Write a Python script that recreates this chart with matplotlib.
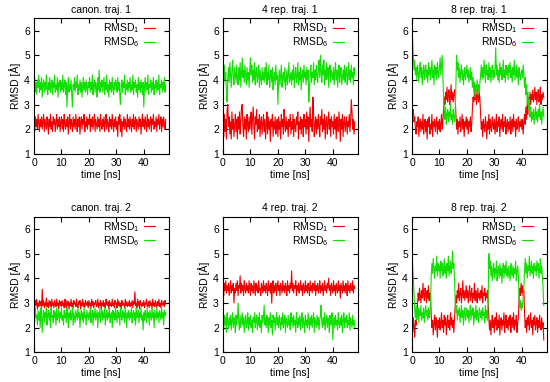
import numpy as np
import matplotlib
matplotlib.use('Agg')
import matplotlib.pyplot as plt

plt.rcParams['font.family'] = ['Liberation Sans', 'DejaVu Sans']
plt.rcParams['mathtext.default'] = 'regular'

# sampling step of the traces, ns
dt = 0.25

titles = ['canon. traj. 1', '4 rep. traj. 1', '8 rep. traj. 1',
          'canon. traj. 2', '4 rep. traj. 2', '8 rep. traj. 2']

# canon. traj. 1  (one row = 5 ns)
c1_r = [2.3, 1.9, 2.5, 2.1, 2.4, 2.0, 2.6, 2.2, 1.9, 2.4, 2.1, 2.5, 2.0, 2.3, 2.6, 1.9, 2.4, 2.2, 2.0, 2.5,
        2.2, 1.8, 2.4, 2.1, 2.6, 2.0, 2.3, 1.9, 2.5, 2.2, 2.4, 1.9, 2.3, 2.6, 2.0, 2.4, 2.1, 2.5, 1.9, 2.3,
        2.5, 2.0, 2.4, 1.9, 2.6, 2.2, 2.0, 2.4, 2.1, 2.5, 1.8, 2.3, 2.6, 2.0, 2.4, 2.2, 1.9, 2.5, 2.1, 2.4,
        2.0, 2.6, 2.2, 1.9, 2.4, 2.1, 2.5, 1.8, 2.3, 2.5, 2.0, 2.4, 2.2, 2.6, 1.9, 2.3, 2.1, 2.5, 2.0, 2.4,
        2.2, 2.6, 1.9, 2.4, 2.1, 2.5, 2.0, 2.3, 2.6, 1.9, 2.4, 2.2, 2.0, 2.5, 2.1, 2.4, 1.9, 2.6, 2.2, 2.0,
        2.4, 2.1, 2.5, 1.9, 2.3, 2.6, 2.0, 2.4, 2.2, 1.9, 2.5, 2.1, 2.4, 2.0, 2.6, 2.2, 1.9, 2.4, 2.1, 2.5,
        2.0, 2.3, 1.7, 2.5, 2.2, 2.6, 1.9, 2.4, 1.7, 2.3, 2.1, 2.5, 2.0, 2.4, 2.2, 1.9, 2.6, 2.1, 2.4, 2.0,
        2.5, 2.2, 1.9, 2.4, 2.1, 2.6, 2.0, 2.3, 2.5, 1.9, 2.4, 2.2, 2.0, 2.5, 2.1, 2.4, 1.8, 2.3, 2.6, 2.1,
        2.4, 2.0, 2.5, 2.2, 1.9, 2.6, 2.1, 2.4, 2.0, 2.3, 2.5, 1.9, 2.4, 2.2, 2.6, 2.0, 2.3, 2.1, 2.5, 1.9,
        2.4, 2.2, 2.6, 2.0, 2.3, 2.5, 1.9, 2.4, 2.1, 2.5, 2.2, 2.0, 2.4]
c1_g = [3.8, 4.1, 3.5, 3.9, 3.4, 4.0, 3.7, 4.2, 3.5, 3.9, 3.6, 4.1, 3.3, 3.8, 4.0, 3.5, 3.9, 3.6, 4.2, 3.7,
        3.4, 3.9, 3.6, 4.1, 3.5, 3.8, 4.0, 3.4, 3.9, 3.7, 4.2, 3.5, 3.8, 3.6, 4.1, 3.3, 3.9, 3.7, 4.0, 3.5,
        3.9, 3.6, 4.2, 3.5, 3.8, 4.0, 3.4, 3.9, 2.9, 3.7, 4.1, 3.5, 3.8, 3.6, 4.0, 3.4, 2.9, 3.8, 3.6, 4.1,
        3.5, 3.9, 3.7, 4.2, 3.4, 3.8, 3.6, 4.0, 3.5, 3.9, 3.3, 3.8, 4.1, 3.6, 3.9, 3.5, 4.0, 3.7, 3.4, 3.9,
        3.7, 4.1, 3.5, 3.9, 3.6, 4.2, 3.4, 3.8, 4.0, 3.5, 3.9, 3.7, 3.3, 4.1, 3.6, 4.4, 3.5, 3.9, 3.7, 4.0,
        3.5, 3.8, 4.1, 3.4, 3.9, 3.6, 4.2, 3.5, 3.8, 3.3, 4.0, 3.6, 3.9, 3.5, 4.1, 3.7, 3.4, 3.9, 3.6, 4.0,
        3.8, 3.5, 4.1, 3.6, 3.9, 3.4, 3.0, 3.8, 4.0, 3.5, 3.9, 3.7, 4.2, 3.4, 3.8, 3.6, 4.0, 3.5, 3.9, 3.7,
        4.1, 3.5, 3.8, 3.6, 4.2, 3.4, 3.9, 3.7, 4.0, 3.5, 3.8, 3.3, 4.1, 3.6, 3.9, 3.5, 4.0, 3.7, 3.4, 3.9,
        2.9, 3.7, 4.1, 3.5, 3.9, 3.6, 4.2, 3.4, 3.8, 3.7, 4.0, 3.5, 3.9, 3.6, 4.1, 3.4, 3.8, 3.7, 4.0, 3.5,
        3.9, 3.6, 4.2, 3.4, 3.8, 3.7, 4.0, 3.5, 3.9, 3.6, 4.1, 3.5, 3.8]

# 4 rep. traj. 1
r4a_r = [2.2, 1.7, 2.6, 1.9, 2.4, 1.6, 2.8, 3.0, 2.1, 2.5, 1.8, 2.3, 1.6, 2.7, 2.0, 2.4, 1.7, 2.2, 2.6, 1.9,
         2.4, 1.6, 2.5, 2.0, 2.7, 1.8, 2.3, 2.9, 3.0, 2.1, 1.7, 2.5, 2.0, 2.4, 1.6, 2.6, 2.2, 1.9, 2.5, 2.0,
         2.3, 2.7, 1.8, 2.4, 2.9, 2.1, 1.6, 2.5, 2.2, 2.8, 1.9, 2.4, 2.0, 2.6, 1.7, 2.3, 2.5, 1.8, 2.2, 2.6,
         1.9, 2.4, 1.6, 2.2, 2.7, 1.8, 2.5, 2.0, 2.3, 1.5, 2.4, 2.1, 2.6, 1.7, 2.3, 2.0, 2.5, 1.8, 2.2, 2.4,
         1.7, 2.5, 2.0, 2.3, 1.6, 2.6, 2.1, 2.4, 1.8, 2.8, 2.2, 1.9, 2.5, 2.0, 2.3, 1.7, 2.4, 2.1, 2.6, 1.8,
         2.3, 2.0, 2.6, 1.7, 2.4, 2.1, 1.9, 2.5, 2.2, 2.7, 1.6, 2.3, 2.0, 2.5, 1.8, 2.4, 2.2, 1.7, 2.6, 2.1,
         2.4, 1.8, 2.7, 2.0, 2.5, 1.5, 2.3, 2.9, 2.1, 2.4, 1.9, 3.3, 2.6, 1.7, 2.2, 2.5, 1.8, 2.4, 2.0, 2.6,
         2.1, 1.7, 2.5, 2.2, 2.8, 1.9, 2.4, 2.0, 2.6, 1.6, 2.3, 2.5, 1.8, 2.2, 2.7, 2.0, 2.4, 1.7, 2.5, 2.1,
         2.3, 1.8, 2.6, 2.0, 2.4, 1.6, 2.5, 2.1, 1.9, 2.7, 2.2, 1.5, 2.4, 2.0, 2.6, 1.7, 2.3, 2.5, 1.9, 2.2,
         2.5, 1.8, 2.3, 2.1, 2.6, 1.9, 2.4, 3.2, 2.7, 2.0, 2.4, 1.8, 2.3]
r4a_g = [4.4, 3.8, 4.6, 4.0, 4.3, 3.5, 3.1, 4.1, 4.5, 3.9, 4.7, 4.2, 3.7, 4.4, 4.8, 4.0, 3.8, 4.5, 4.2, 3.9,
         4.6, 4.1, 3.8, 4.5, 4.0, 4.7, 3.7, 4.3, 4.9, 4.1, 4.4, 3.9, 4.6, 4.2, 3.8, 4.5, 4.0, 4.3, 3.7, 4.4,
         4.9, 4.2, 4.6, 3.9, 4.4, 4.0, 4.7, 3.8, 4.3, 4.5, 3.9, 4.2, 4.6, 3.7, 4.4, 4.1, 3.8, 4.5, 4.0, 4.3,
         3.9, 4.5, 4.1, 4.7, 3.8, 4.3, 4.0, 4.6, 3.7, 4.2, 4.4, 3.9, 4.5, 3.6, 4.1, 4.3, 3.8, 4.6, 4.0, 4.2,
         3.0, 3.9, 4.4, 3.8, 4.2, 4.6, 3.7, 4.1, 4.3, 3.9, 4.5, 3.6, 4.0, 4.4, 3.8, 4.2, 4.7, 3.9, 4.1, 4.3,
         3.8, 4.4, 4.0, 4.6, 3.7, 4.2, 4.5, 3.9, 4.1, 4.7, 3.8, 4.3, 4.0, 4.5, 3.6, 4.2, 4.4, 3.9, 4.6, 4.1,
         4.3, 3.8, 4.5, 4.0, 4.4, 3.1, 3.7, 4.2, 4.6, 3.9, 4.3, 4.1, 4.7, 3.8, 4.4, 4.0, 4.6, 4.2, 3.9, 4.5,
         4.8, 4.1, 5.0, 4.3, 3.9, 4.6, 4.2, 4.8, 3.8, 4.4, 4.0, 4.7, 4.1, 4.5, 3.7, 4.3, 4.6, 3.9, 4.4, 4.2,
         4.0, 4.5, 3.8, 4.3, 4.7, 4.0, 4.4, 3.7, 4.2, 4.6, 3.9, 4.3, 4.5, 3.8, 4.1, 4.4, 4.0, 4.6, 3.9, 4.3,
         4.5, 3.8, 4.2, 4.7, 4.0, 4.4, 3.9, 4.6, 4.1, 4.3, 3.8, 4.5, 4.2]

# 8 rep. traj. 1
r8a_r = [2.9, 2.6, 2.8, 2.3, 2.5, 2.0, 1.8, 2.3, 2.1, 2.5, 1.7, 2.2, 2.4, 1.9, 2.3, 2.0, 2.6, 1.8, 2.2, 2.4,
         1.9, 2.3, 1.6, 2.4, 2.1, 2.5, 1.8, 2.2, 2.0, 2.6, 1.7, 2.3, 2.1, 2.4, 1.9, 2.2, 2.5, 1.8, 2.3, 2.0,
         2.4, 1.9, 2.2, 2.6, 2.0, 2.3, 2.8, 3.3, 3.0, 3.5, 3.2, 3.7, 3.1, 3.4, 3.6, 3.0, 3.3, 3.8, 3.2, 3.5,
         3.1, 3.4, 3.6, 3.2, 2.6, 2.0, 2.4, 1.8, 2.3, 2.1, 2.5, 1.9, 2.2, 2.6, 2.0, 2.4, 1.7, 2.3, 2.1, 2.5,
         2.0, 2.4, 1.8, 2.3, 2.1, 2.5, 1.9, 2.2, 2.8, 3.3, 3.1, 3.5, 3.2, 3.4, 3.0, 3.6, 3.3, 3.1, 3.5, 3.2,
         2.6, 2.0, 2.3, 1.7, 2.4, 2.1, 1.9, 2.5, 2.2, 1.6, 2.3, 2.0, 2.6, 1.8, 2.4, 2.1, 1.9, 2.5, 2.2, 2.0,
         2.4, 1.8, 2.2, 2.6, 1.9, 2.3, 2.1, 2.5, 1.7, 2.2, 2.4, 2.0, 2.6, 1.9, 2.3, 2.1, 2.5, 1.8, 2.2, 2.4,
         1.9, 2.3, 2.0, 2.5, 1.8, 2.2, 2.4, 1.9, 2.6, 2.1, 2.3, 1.7, 2.4, 2.0, 2.2, 2.5, 1.9, 2.3, 2.1, 2.4,
         2.0, 2.4, 1.8, 2.3, 2.6, 2.2, 2.9, 2.4, 3.1, 2.6, 3.3, 2.8, 3.5, 3.0, 3.4, 3.2, 3.6, 3.1, 3.3, 3.7,
         3.2, 3.5, 3.0, 3.4, 3.6, 3.1, 3.3, 3.7, 3.0, 3.4, 3.2, 3.5, 3.3]
r8a_g = [6.0, 5.6, 4.9, 4.4, 4.8, 4.2, 4.5, 4.0, 4.6, 4.3, 3.9, 4.4, 4.7, 4.1, 4.5, 3.8, 4.3, 4.6, 4.0, 4.4,
         4.6, 4.1, 4.4, 3.9, 4.7, 4.2, 4.5, 4.0, 4.3, 4.8, 4.1, 4.4, 3.8, 4.6, 4.2, 4.5, 4.0, 4.7, 4.3, 4.1,
         4.5, 4.9, 4.2, 4.6, 5.0, 4.1, 3.4, 2.7, 2.4, 2.9, 2.2, 2.6, 2.8, 2.3, 2.7, 2.5, 3.0, 2.4, 2.6, 2.2,
         2.8, 2.5, 2.3, 2.7, 3.8, 5.0, 4.4, 4.7, 4.1, 4.5, 3.9, 4.3, 4.6, 4.0, 4.4, 3.8, 4.2, 4.5, 4.0, 4.3,
         4.6, 4.1, 4.4, 3.9, 4.2, 4.5, 4.0, 4.3, 3.7, 4.1, 3.5, 3.9, 3.3, 3.8, 3.6, 4.0, 3.4, 3.8, 3.5, 3.9,
         4.2, 4.6, 4.0, 4.5, 4.1, 4.8, 4.3, 3.9, 4.6, 4.2, 4.4, 4.0, 4.7, 4.1, 4.5, 3.9, 4.3, 4.6, 4.0, 4.4,
         4.1, 4.5, 5.3, 4.2, 4.6, 4.0, 4.4, 3.9, 4.7, 4.2, 4.5, 4.0, 4.3, 4.8, 4.1, 4.4, 3.9, 4.6, 4.2, 4.5,
         4.0, 4.6, 4.3, 4.7, 4.1, 4.4, 3.9, 4.5, 4.2, 4.8, 4.0, 4.3, 4.6, 4.1, 4.4, 3.8, 4.5, 4.2, 4.0, 4.3,
         4.4, 4.1, 4.6, 4.2, 3.7, 4.1, 3.4, 3.8, 3.0, 3.5, 2.8, 3.2, 2.5, 2.9, 2.3, 2.7, 2.4, 2.8, 2.2, 2.6,
         2.9, 2.4, 2.7, 2.3, 2.8, 2.5, 3.0, 2.4, 2.7, 2.2, 2.6, 2.9, 2.5]

# canon. traj. 2
c2_r = [3.0, 2.8, 3.1, 2.9, 3.15, 2.75, 3.0, 2.85, 3.1, 2.9, 3.05, 2.8, 3.55, 2.9, 3.1, 2.8, 3.0, 2.9, 3.2, 2.85,
        3.0, 2.8, 3.1, 2.9, 3.05, 2.75, 3.15, 2.9, 3.0, 2.8, 3.1, 2.95, 2.85, 3.15, 2.9, 3.0, 2.75, 3.1, 2.9, 3.05,
        2.85, 3.1, 2.9, 3.0, 2.8, 3.15, 2.95, 2.8, 3.1, 2.9, 3.05, 2.75, 3.0, 2.9, 3.15, 2.85, 3.0, 2.8, 3.1, 2.95,
        3.0, 2.85, 3.15, 2.9, 2.8, 3.05, 2.95, 3.1, 2.75, 3.0, 2.9, 3.15, 2.85, 3.0, 2.8, 3.1, 2.95, 2.9, 3.05, 2.8,
        3.1, 2.9, 3.0, 2.75, 3.15, 2.9, 3.05, 2.8, 3.0, 2.95, 3.1, 2.85, 2.9, 3.15, 2.8, 3.0, 2.9, 3.1, 2.75, 3.0,
        2.9, 3.1, 2.85, 3.0, 2.8, 3.15, 2.95, 2.9, 3.05, 2.75, 3.1, 2.9, 3.0, 2.85, 3.15, 2.9, 3.0, 2.8, 3.1, 2.95,
        3.0, 2.8, 3.15, 2.9, 3.05, 2.85, 3.0, 2.75, 3.1, 2.9, 3.0, 2.95, 2.8, 3.15, 2.9, 3.05, 2.85, 3.0, 2.9, 3.1,
        2.85, 3.0, 2.9, 3.1, 2.8, 3.05, 2.95, 3.45, 2.9, 3.0, 2.8, 3.15, 2.9, 3.05, 2.75, 3.1, 2.95, 2.85, 3.0, 2.9,
        3.1, 2.8, 3.0, 2.95, 3.15, 2.85, 2.9, 3.05, 2.8, 3.1, 2.9, 3.0, 2.75, 3.15, 2.9, 3.0, 2.85, 3.1, 2.95, 2.8,
        3.05, 2.9, 3.15, 2.85, 3.0, 2.8, 3.1, 2.95, 2.9, 3.05, 2.85, 3.1, 2.95]
c2_g = [2.6, 2.2, 2.8, 2.4, 2.5, 2.1, 2.7, 2.3, 2.6, 2.0, 2.8, 2.4, 1.8, 2.5, 2.7, 2.2, 2.6, 2.4, 2.8, 2.1,
        2.5, 2.7, 2.3, 2.6, 2.0, 2.8, 2.4, 2.5, 2.2, 2.7, 2.4, 2.6, 2.1, 2.8, 2.3, 2.5, 2.7, 2.2, 2.6, 2.4,
        2.8, 2.3, 2.5, 2.1, 2.7, 2.4, 2.6, 2.2, 2.8, 2.5, 2.0, 2.6, 2.4, 2.7, 2.3, 2.5, 2.8, 2.1, 2.6, 2.4,
        2.2, 2.7, 2.5, 2.3, 2.8, 2.4, 2.6, 2.0, 2.5, 2.7, 2.3, 2.6, 2.2, 2.8, 2.4, 2.5, 2.1, 2.7, 2.5, 2.3,
        2.6, 2.4, 2.8, 2.2, 2.5, 2.7, 2.1, 2.6, 2.4, 2.8, 2.3, 2.5, 2.7, 2.0, 2.6, 2.4, 2.8, 2.2, 2.5, 2.7,
        2.3, 2.6, 2.4, 2.8, 2.1, 2.5, 2.7, 2.3, 2.6, 2.4, 2.8, 2.2, 2.5, 2.6, 2.0, 2.7, 2.4, 2.6, 2.3, 2.8,
        2.5, 2.2, 2.7, 2.4, 2.6, 2.1, 2.8, 2.5, 2.3, 2.7, 2.4, 2.6, 2.2, 2.8, 2.5, 2.0, 2.6, 2.4, 2.7, 2.3,
        2.6, 2.4, 2.8, 2.2, 2.5, 2.7, 2.3, 2.6, 2.1, 2.8, 2.4, 2.5, 2.7, 2.2, 2.6, 2.4, 2.8, 2.3, 2.5, 1.9,
        2.6, 2.3, 2.7, 2.5, 2.2, 2.8, 2.4, 2.6, 2.1, 2.7, 2.5, 2.3, 2.8, 2.4, 2.6, 2.0, 2.7, 2.5, 2.3, 2.8,
        2.4, 2.6, 2.2, 2.7, 2.5, 2.3, 2.8, 2.4, 2.6, 2.1, 2.7, 2.5, 2.6]

# 4 rep. traj. 2
r4b_r = [3.6, 3.3, 3.8, 3.5, 3.9, 3.4, 3.7, 3.5, 3.8, 3.3, 3.6, 3.9, 3.4, 3.7, 3.5, 3.8, 3.0, 3.6, 3.4, 3.8,
         3.5, 3.9, 3.3, 3.7, 3.6, 4.1, 3.4, 3.8, 3.5, 3.7, 3.3, 3.9, 3.6, 3.4, 3.8, 3.5, 3.7, 3.4, 3.9, 3.6,
         3.3, 3.8, 3.5, 3.7, 3.4, 3.9, 3.6, 3.3, 3.8, 3.5, 3.7, 3.4, 3.9, 3.5, 3.6, 3.3, 3.8, 3.6, 3.4, 3.9,
         3.5, 3.7, 3.4, 3.8, 3.6, 3.3, 3.9, 3.5, 3.7, 3.4, 3.8, 3.0, 3.6, 3.9, 3.4, 3.7, 3.5, 3.8, 3.3, 3.6,
         3.9, 3.5, 3.7, 3.3, 3.8, 3.6, 3.4, 3.9, 3.5, 3.7, 3.4, 3.8, 3.6, 3.3, 3.9, 3.5, 3.7, 3.4, 3.8, 3.6,
         4.3, 3.5, 3.8, 3.4, 3.7, 3.6, 3.9, 3.3, 3.7, 3.5, 3.8, 3.4, 3.6, 3.9, 3.5, 3.7, 3.3, 3.8, 3.6, 3.4,
         3.9, 3.5, 3.7, 3.4, 3.8, 3.6, 3.3, 3.9, 3.5, 3.7, 3.4, 3.8, 3.6, 3.5, 3.9, 3.3, 3.7, 3.5, 3.8, 3.4,
         3.6, 3.9, 3.4, 3.7, 3.5, 3.8, 3.3, 3.6, 3.9, 3.5, 3.7, 3.4, 3.8, 3.6, 4.0, 3.5, 3.7, 3.3, 3.8, 3.6,
         3.4, 3.9, 3.5, 3.7, 3.3, 3.8, 3.6, 3.4, 3.9, 3.5, 3.7, 3.2, 3.8, 3.6, 3.4, 3.9, 3.5, 3.7, 3.4, 3.8,
         3.6, 3.3, 3.9, 3.5, 3.7, 3.4, 3.8, 3.6, 3.5, 3.9, 3.4, 3.7, 3.6]
r4b_g = [2.3, 1.9, 2.5, 2.1, 2.4, 1.8, 2.6, 2.2, 2.0, 2.4, 2.1, 2.5, 1.9, 2.3, 2.6, 2.0, 2.4, 2.2, 1.8, 2.5,
         2.1, 2.4, 3.0, 2.2, 1.9, 2.5, 2.0, 2.3, 2.6, 2.1, 2.4, 1.8, 2.3, 2.5, 2.0, 2.2, 2.6, 1.9, 2.4, 2.1,
         2.5, 2.0, 2.3, 1.8, 2.4, 2.2, 2.6, 2.0, 2.3, 2.5, 1.9, 2.4, 2.1, 2.6, 2.0, 2.3, 1.8, 2.5, 2.2, 2.4,
         2.9, 2.1, 2.4, 2.0, 2.5, 2.2, 1.8, 2.4, 2.1, 2.6, 2.0, 2.3, 1.7, 2.5, 2.2, 2.4, 1.9, 2.3, 2.6, 2.1,
         2.4, 2.0, 2.5, 2.2, 1.9, 2.4, 2.1, 2.6, 2.0, 2.3, 2.5, 1.8, 2.4, 2.2, 2.0, 2.5, 2.1, 2.3, 1.9, 2.6,
         2.2, 2.4, 2.0, 2.5, 2.1, 2.3, 1.8, 2.6, 2.2, 2.0, 2.4, 2.1, 2.5, 1.9, 2.3, 2.6, 2.0, 2.4, 2.2, 1.8,
         2.5, 2.1, 2.3, 2.0, 2.6, 2.2, 1.9, 2.4, 2.1, 2.5, 2.0, 2.3, 2.6, 1.8, 2.4, 2.2, 2.0, 2.5, 2.1, 2.4,
         1.9, 2.3, 2.5, 2.9, 2.2, 2.0, 2.4, 2.1, 2.6, 1.9, 2.3, 2.5, 2.0, 2.4, 2.2, 1.8, 2.5, 2.1, 2.3, 2.6,
         1.5, 2.2, 2.4, 2.0, 2.5, 2.1, 2.3, 1.9, 2.6, 2.2, 2.0, 2.4, 2.1, 2.5, 1.8, 2.3, 2.6, 2.0, 2.4, 2.2,
         2.5, 2.0, 2.3, 2.1, 2.6, 1.9, 2.4, 2.2, 2.0, 2.5, 2.1, 2.3, 2.0]

# 8 rep. traj. 2
r8b_r = [2.2, 1.8, 2.4, 2.0, 1.6, 2.3, 2.1, 2.5, 2.9, 3.4, 3.1, 3.6, 3.3, 3.0, 3.5, 3.2, 3.8, 3.3, 3.1, 3.6,
         3.4, 3.0, 3.5, 3.2, 3.7, 3.1, 3.4, 3.3, 2.5, 2.0, 2.3, 1.7, 2.2, 2.5, 1.9, 2.4, 2.1, 1.6, 2.3, 2.0,
         2.4, 1.9, 2.2, 2.6, 2.0, 2.3, 1.8, 2.5, 2.1, 2.4, 1.7, 2.2, 2.5, 2.0, 2.3, 1.9, 2.6, 2.1, 2.4, 2.0,
         2.3, 1.8, 2.4, 2.9, 3.3, 3.0, 3.5, 3.2, 3.8, 3.1, 3.4, 3.6, 3.0, 3.3, 3.9, 3.2, 3.5, 3.1, 3.4, 3.7,
         3.2, 3.5, 3.0, 3.4, 3.7, 3.1, 3.3, 3.6, 3.0, 3.4, 3.2, 3.8, 3.1, 3.5, 3.3, 3.0, 3.6, 3.2, 3.4, 3.1,
         3.5, 3.2, 3.7, 3.0, 3.4, 3.3, 3.6, 3.1, 3.4, 3.2, 3.5, 3.0, 2.4, 1.9, 2.3, 1.7, 2.2, 2.5, 2.0, 2.3,
         1.8, 2.4, 2.1, 2.6, 1.9, 2.3, 2.0, 2.5, 1.7, 2.2, 2.4, 1.9, 2.3, 2.1, 2.6, 1.8, 2.2, 2.5, 2.0, 2.3,
         1.9, 2.4, 2.1, 2.5, 1.8, 2.2, 2.4, 2.0, 2.6, 1.9, 2.3, 2.1, 2.5, 1.8, 2.2, 2.4, 3.2, 3.6, 3.3, 3.8,
         3.4, 3.7, 3.3, 3.5, 2.6, 2.0, 2.3, 1.8, 2.4, 2.1, 2.5, 1.9, 2.2, 2.6, 2.0, 2.3, 1.7, 2.4, 2.1, 2.5,
         1.9, 2.2, 2.4, 1.8, 2.3, 2.0, 2.5, 2.1, 1.9, 2.4, 2.0, 2.2, 1.5]
r8b_g = [4.9, 4.5, 4.0, 3.3, 2.7, 2.4, 2.9, 2.3, 2.6, 2.8, 2.2, 2.7, 2.5, 2.9, 2.3, 2.6, 2.4, 2.8, 2.2, 2.6,
         2.9, 2.5, 2.7, 2.3, 2.8, 2.4, 2.6, 3.0, 4.1, 4.6, 4.2, 4.8, 4.4, 4.0, 4.5, 4.3, 4.9, 4.1, 4.6, 4.3,
         4.5, 4.0, 4.7, 4.3, 4.6, 4.1, 4.4, 4.8, 4.2, 4.5, 4.0, 4.6, 4.3, 4.9, 4.1, 4.4, 4.7, 4.2, 4.5, 5.1,
         4.4, 4.6, 3.9, 3.0, 2.6, 2.9, 2.3, 2.7, 2.5, 2.8, 2.2, 2.6, 2.9, 2.4, 2.7, 2.1, 2.6, 2.8, 2.3, 2.5,
         2.8, 2.4, 2.7, 2.2, 2.6, 2.9, 2.3, 2.7, 2.5, 2.8, 2.1, 2.6, 2.4, 2.9, 2.3, 2.7, 2.5, 2.2, 2.8, 2.6,
         2.4, 2.7, 2.3, 2.8, 2.5, 2.6, 2.2, 2.9, 2.4, 2.7, 2.3, 3.2, 5.0, 4.4, 4.7, 4.1, 4.5, 3.9, 4.3, 4.6,
         4.0, 4.4, 4.2, 4.7, 3.9, 4.3, 4.5, 4.0, 4.6, 4.1, 4.4, 3.8, 4.3, 4.6, 4.0, 4.5, 4.2, 4.7, 4.1, 4.4,
         4.0, 4.5, 4.2, 3.9, 4.6, 4.3, 4.1, 4.5, 4.0, 4.4, 4.2, 4.7, 3.9, 4.3, 4.5, 4.1, 3.2, 2.8, 3.1, 2.7,
         3.0, 2.8, 3.2, 3.6, 4.3, 4.8, 4.2, 4.6, 4.0, 4.5, 4.3, 4.9, 4.1, 4.4, 4.7, 4.2, 4.5, 4.0, 4.6, 4.3,
         4.5, 4.1, 4.7, 4.3, 4.6, 4.0, 4.4, 4.8, 4.2, 4.5, 4.1, 3.6, 2.9]

series = [(c1_r, c1_g), (r4a_r, r4a_g), (r8a_r, r8a_g),
          (c2_r, c2_g), (r4b_r, r4b_g), (r8b_r, r8b_g)]

fig = plt.figure(figsize=(5.5, 3.82), dpi=100)
W, H = 550.0, 382.0
lefts = [34, 223, 412]
tops = [18.3, 216.7]
aw, ah = 134.5, 135.5

for k, (rr, gg) in enumerate(series):
    row, col = divmod(k, 3)
    ax = fig.add_axes([lefts[col] / W, 1 - (tops[row] + ah) / H, aw / W, ah / H])
    ax.plot(dt * np.arange(len(rr)), rr, color='#f00000', lw=0.8, label=r'RMSD$_1$')
    ax.plot(dt * np.arange(len(gg)), gg, color='#10e000', lw=0.8, label=r'RMSD$_6$')
    ax.set_xlim(0, 49)
    ax.set_ylim(1, 6.5)
    ax.set_xticks([0, 10, 20, 30, 40])
    ax.set_yticks([1, 2, 3, 4, 5, 6])
    ax.tick_params(direction='in', top=True, right=True, length=3.5,
                   width=0.8, labelsize=7.5, pad=3)
    for s in ax.spines.values():
        s.set_linewidth(0.8)
    ax.set_title(titles[k], fontsize=7.5, pad=4)
    ax.set_xlabel('time [ns]', fontsize=7.5, labelpad=1.5)
    ax.set_ylabel('RMSD [Å]', fontsize=7.5, labelpad=2)
    leg = ax.legend(loc='upper right', bbox_to_anchor=(0.9, 0.975),
                    frameon=False, markerfirst=False, fontsize=7.5,
                    handlelength=1.1, handletextpad=0.4, labelspacing=0.02,
                    borderpad=0, borderaxespad=0)
    for ln in leg.get_lines():
        ln.set_linewidth(0.8)

fig.savefig('out.png', dpi=100)
